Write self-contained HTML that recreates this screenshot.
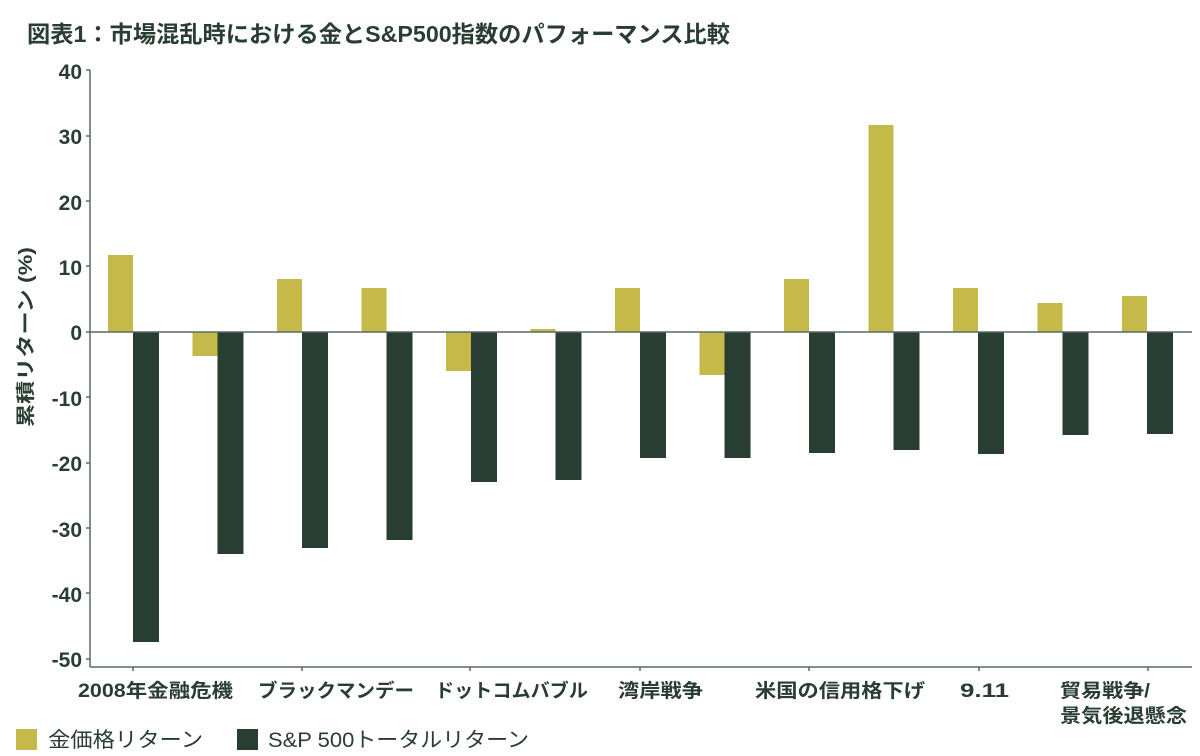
<!DOCTYPE html>
<html><head><meta charset="utf-8"><style>html,body{margin:0;padding:0;background:#fff}svg{display:block}</style></head><body>
<svg width="1200" height="756" xmlns="http://www.w3.org/2000/svg" font-family="'Liberation Sans','Noto Sans CJK JP',sans-serif">
<text x="27" y="42" font-size="23" font-weight="bold" fill="#2a3d33" textLength="703" lengthAdjust="spacingAndGlyphs">図表1：市場混乱時における金とS&amp;P500指数のパフォーマンス比較</text>
<g font-size="21" font-weight="bold" fill="#2a3d33" text-anchor="end">
<text x="82" y="79">40</text><text x="82" y="144">30</text><text x="82" y="210">20</text><text x="82" y="275">10</text><text x="82" y="340">0</text><text x="82" y="406">-10</text><text x="82" y="471">-20</text><text x="82" y="537">-30</text><text x="82" y="602">-40</text><text x="82" y="667">-50</text>
</g>
<g stroke="#5a6a62" stroke-width="1.5">
<line x1="90" y1="70" x2="90" y2="667"/><line x1="90" y1="667" x2="1192" y2="667"/>
<line x1="86" y1="70" x2="90" y2="70"/><line x1="86" y1="136" x2="90" y2="136"/><line x1="86" y1="201" x2="90" y2="201"/><line x1="86" y1="266" x2="90" y2="266"/><line x1="86" y1="332" x2="90" y2="332"/><line x1="86" y1="397" x2="90" y2="397"/><line x1="86" y1="463" x2="90" y2="463"/><line x1="86" y1="528" x2="90" y2="528"/><line x1="86" y1="593" x2="90" y2="593"/><line x1="86" y1="659" x2="90" y2="659"/>
<line x1="133" y1="667" x2="133" y2="671"/><line x1="302" y1="667" x2="302" y2="671"/><line x1="470" y1="667" x2="470" y2="671"/><line x1="640" y1="667" x2="640" y2="671"/><line x1="809" y1="667" x2="809" y2="671"/><line x1="979" y1="667" x2="979" y2="671"/><line x1="1148" y1="667" x2="1148" y2="671"/>
</g>
<g fill="#c5b94a">
<rect x="108" y="255" width="25" height="77"/>
<rect x="192.5" y="332" width="25" height="24"/>
<rect x="277" y="279" width="25" height="53"/>
<rect x="361.5" y="288" width="25" height="44"/>
<rect x="446" y="332" width="25" height="39"/>
<rect x="530.5" y="329" width="25" height="3"/>
<rect x="615" y="288" width="25" height="44"/>
<rect x="699.5" y="332" width="25" height="43"/>
<rect x="784" y="279" width="25" height="53"/>
<rect x="868.5" y="125" width="25" height="207"/>
<rect x="953" y="288" width="25" height="44"/>
<rect x="1037.5" y="303" width="25" height="29"/>
<rect x="1122" y="296" width="25" height="36"/>
</g>
<g fill="#283e33">
<rect x="133" y="332" width="26" height="310"/>
<rect x="217.5" y="332" width="26" height="222"/>
<rect x="302" y="332" width="26" height="216"/>
<rect x="386.5" y="332" width="26" height="208"/>
<rect x="471" y="332" width="26" height="150"/>
<rect x="555.5" y="332" width="26" height="148"/>
<rect x="640" y="332" width="26" height="126"/>
<rect x="724.5" y="332" width="26" height="126"/>
<rect x="809" y="332" width="26" height="121"/>
<rect x="893.5" y="332" width="26" height="118"/>
<rect x="978" y="332" width="26" height="122"/>
<rect x="1062.5" y="332" width="26" height="103"/>
<rect x="1147" y="332" width="26" height="102"/>
</g>
<line x1="90" y1="332" x2="1192" y2="332" stroke="#5a6a62" stroke-width="1.5"/>
<text transform="translate(32,337) rotate(-90)" text-anchor="middle" font-size="19" font-weight="bold" fill="#2a3d33" textLength="180" lengthAdjust="spacingAndGlyphs">累積リターン (%)</text>
<g font-size="19" font-weight="bold" fill="#2a3d33">
<text x="78" y="697" textLength="155" lengthAdjust="spacingAndGlyphs">2008年金融危機</text>
<text x="258" y="697" textLength="156" lengthAdjust="spacingAndGlyphs">ブラックマンデー</text>
<text x="435" y="697" textLength="153" lengthAdjust="spacingAndGlyphs">ドットコムバブル</text>
<text x="618" y="697" textLength="85" lengthAdjust="spacingAndGlyphs">湾岸戦争</text>
<text x="755" y="697" textLength="170" lengthAdjust="spacingAndGlyphs">米国の信用格下げ</text>
<text x="960" y="697" textLength="49" lengthAdjust="spacingAndGlyphs">9.11</text>
<text x="1060" y="697" textLength="90" lengthAdjust="spacingAndGlyphs">貿易戦争/</text>
<text x="1060" y="722" textLength="127" lengthAdjust="spacingAndGlyphs">景気後退懸念</text>
</g>
<rect x="16" y="729" width="21" height="21" fill="#c5b94a"/>
<text x="48" y="747" font-size="21" fill="#2a3d33" textLength="155" lengthAdjust="spacingAndGlyphs">金価格リターン</text>
<rect x="237" y="729" width="21" height="21" fill="#283e33"/>
<text x="268" y="747" font-size="21" fill="#2a3d33" textLength="261" lengthAdjust="spacingAndGlyphs">S&amp;P 500トータルリターン</text>
</svg>
</body></html>
